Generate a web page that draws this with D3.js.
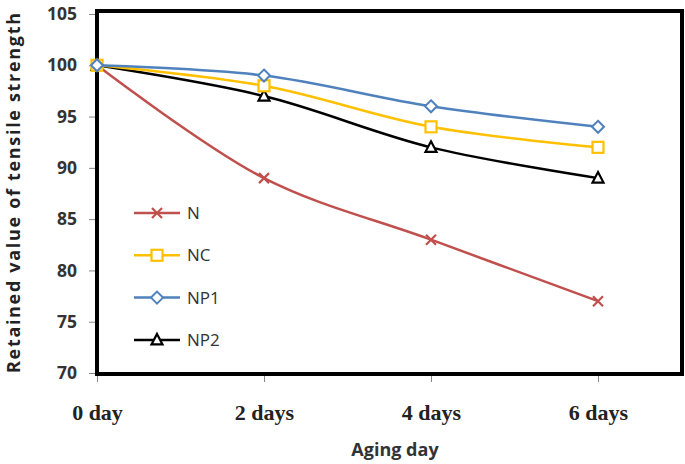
<!DOCTYPE html>
<html lang="en">
<head>
    <meta charset="UTF-8">
    <title>Retained tensile strength</title>
    <script src="https://d3js.org/d3.v7.min.js" charset="utf-8"></script>
    <style>
        body { margin: 0; background: white; }
        svg { display: block; }
    </style>
</head>
<body>
    <script>
        // chart data
        var days = [0, 2, 4, 6];
        var dayLabels = ["0 day", "2 days", "4 days", "6 days"];
        var yTicks = [70, 75, 80, 85, 90, 95, 100, 105];
        var seriesNames = ["N", "NC", "NP1", "NP2"];
        var valN = [100, 89, 83, 77];
        var valNC = [100, 98, 94, 92];
        var valNP1 = [100, 99, 96, 94];
        var valNP2 = [100, 97, 92, 89];

        var width = 685, height = 464;
        var colors = { N: "#c0504d", NC: "#ffc000", NP1: "#4f81bd", NP2: "#000000" };
        var symbols = { N: "x", NC: "square", NP1: "diamond", NP2: "triangle" };

        var svg = d3.select("body").append("svg")
            .attr("width", width).attr("height", height);

        var x = d3.scaleLinear().domain([0, 6]).range([97, 598]);
        var y = d3.scaleLinear().domain([70, 105]).range([373, 14]);

        // y axis ticks + labels
        var yAxis = svg.append("g").attr("transform", "translate(97,0)")
            .call(d3.axisLeft(y).tickValues(yTicks).tickSize(8).tickPadding(12));
        yAxis.select(".domain").remove();
        yAxis.selectAll("line").attr("stroke", "#888");
        yAxis.selectAll("text")
            .attr("font-family", "'Open Sans', sans-serif")
            .attr("font-size", 17.5).attr("font-weight", "bold").attr("fill", "#333");

        // x axis ticks + labels
        var xAxis = svg.append("g").attr("transform", "translate(0,374)")
            .call(d3.axisBottom(x).tickValues(days).tickSize(8).tickPadding(22)
                .tickFormat(function (d, i) { return dayLabels[i]; }));
        xAxis.select(".domain").remove();
        xAxis.selectAll("line").attr("stroke", "#888");
        xAxis.selectAll("text")
            .attr("font-family", "'Liberation Serif', 'Times New Roman', serif")
            .attr("font-size", 22).attr("font-weight", "bold").attr("fill", "#222");

        // plot frame
        svg.append("rect")
            .attr("x", 97).attr("y", 11)
            .attr("width", 682 - 97).attr("height", 374 - 11)
            .attr("fill", "none").attr("stroke", "#000").attr("stroke-width", 4);

        // axis titles
        svg.append("text")
            .attr("transform", "translate(20,193) rotate(-90)")
            .attr("text-anchor", "middle")
            .attr("font-family", "'Open Sans', sans-serif")
            .attr("font-size", 18).attr("font-weight", "bold").attr("fill", "#222")
            .attr("textLength", 360).attr("lengthAdjust", "spacing")
            .text("Retained value of tensile strength");
        svg.append("text")
            .attr("x", 395).attr("y", 456)
            .attr("text-anchor", "middle")
            .attr("font-family", "'Open Sans', sans-serif")
            .attr("font-size", 18).attr("font-weight", "bold").attr("fill", "#333")
            .text("Aging day");

        var series = [
            { name: "N", values: valN },
            { name: "NC", values: valNC },
            { name: "NP1", values: valNP1 },
            { name: "NP2", values: valNP2 }
        ];

        var line = d3.line()
            .x(function (d, i) { return x(days[i]); })
            .y(function (d) { return y(d); })
            .curve(d3.curveCatmullRom.alpha(0.5));

        function drawMarker(g, name, cx, cy) {
            var c = colors[name];
            var t = symbols[name];
            if (t === "x") {
                g.append("path")
                    .attr("d", "M" + (cx - 5) + "," + (cy - 5) + "L" + (cx + 5) + "," + (cy + 5) +
                        "M" + (cx - 5) + "," + (cy + 5) + "L" + (cx + 5) + "," + (cy - 5))
                    .attr("stroke", c).attr("stroke-width", 2.2).attr("fill", "none");
            } else if (t === "square") {
                g.append("rect").attr("x", cx - 5.5).attr("y", cy - 5.5)
                    .attr("width", 11).attr("height", 11)
                    .attr("fill", "white").attr("stroke", c).attr("stroke-width", 2.2);
            } else if (t === "diamond") {
                g.append("path")
                    .attr("d", "M" + cx + "," + (cy - 6) + "L" + (cx + 6) + "," + cy + "L" + cx + "," + (cy + 6) + "L" + (cx - 6) + "," + cy + "Z")
                    .attr("fill", "white").attr("stroke", c).attr("stroke-width", 2);
            } else {
                g.append("path")
                    .attr("d", "M" + cx + "," + (cy - 6) + "L" + (cx + 5.5) + "," + (cy + 4.5) + "L" + (cx - 5.5) + "," + (cy + 4.5) + "Z")
                    .attr("fill", "white").attr("stroke", c).attr("stroke-width", 2.2);
            }
        }

        // draw lines, back to front
        var order = ["N", "NP2", "NC", "NP1"];
        order.forEach(function (name) {
            var s = series.find(function (d) { return d.name === name; });
            var g = svg.append("g");
            g.append("path")
                .attr("d", line(s.values))
                .attr("fill", "none").attr("stroke", colors[name]).attr("stroke-width", 2.5);
            s.values.forEach(function (v, i) {
                drawMarker(g, name, x(days[i]), y(v));
            });
        });

        // legend
        var legend = svg.append("g");
        seriesNames.forEach(function (name, i) {
            var ly = 213 + i * 42.3;
            legend.append("line")
                .attr("x1", 134).attr("x2", 180).attr("y1", ly).attr("y2", ly)
                .attr("stroke", colors[name]).attr("stroke-width", 2.5);
            drawMarker(legend, name, 157, ly);
            legend.append("text")
                .attr("x", 187).attr("y", ly + 6)
                .attr("font-family", "'Open Sans', sans-serif")
                .attr("font-size", 17).attr("fill", "#333")
                .text(name);
        });
    </script>
</body>
</html>
